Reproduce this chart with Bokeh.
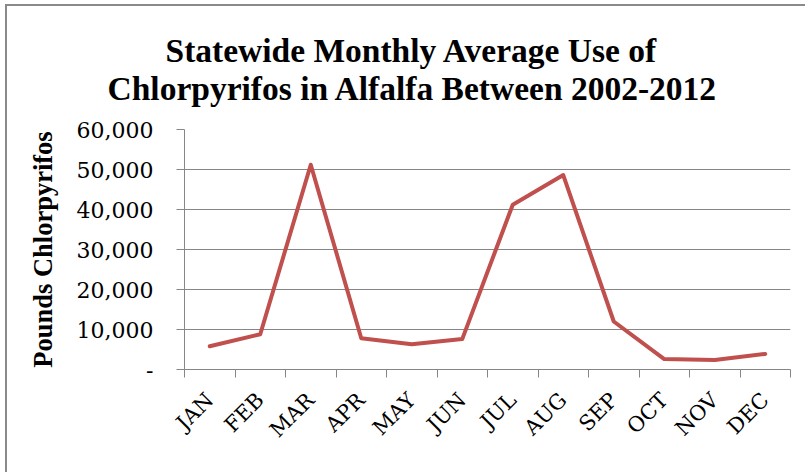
from bokeh.plotting import figure
from bokeh.models import Range1d, FixedTicker, NumeralTickFormatter, Title
from bokeh.embed import file_html
from bokeh.resources import INLINE

months = ["JAN", "FEB", "MAR", "APR", "MAY", "JUN", "JUL", "AUG", "SEP", "OCT", "NOV", "DEC"]
pounds = [5800, 8800, 51200, 7800, 6300, 7600, 41200, 48600, 12000, 2600, 2400, 3900]
y_ticks = [0, 10000, 20000, 30000, 40000, 50000, 60000]
title_lines = ["Statewide Monthly Average Use of", "Chlorpyrifos in Alfalfa Between 2002-2012"]
y_label = "Pounds Chlorpyrifos"

xs = [i + 0.5 for i in range(len(months))]

p = figure(width=800, height=468, output_backend="svg", toolbar_location=None,
           x_range=Range1d(0, len(months)), y_range=Range1d(0, 60000),
           min_border_left=177, min_border_right=17, min_border_top=123, min_border_bottom=105)
p.margin = (4, 0, 0, 5)
p.styles = {"border-top": "2px solid #8a8a8a", "border-left": "2px solid #8a8a8a"}
p.outline_line_color = None
p.background_fill_color = "white"
p.border_fill_color = "white"
p.title.visible = False

t2 = Title(text=title_lines[1], align="left", offset=-77,
           text_font="Liberation Serif", text_font_size="33.5px", text_font_style="bold",
           text_color="black", standoff=46)
t1 = Title(text=title_lines[0], align="left", offset=-19,
           text_font="Liberation Serif", text_font_size="33.5px", text_font_style="bold",
           text_color="black", standoff=-48)
p.add_layout(t2, "above")
p.add_layout(t1, "above")

p.line(xs, pounds, line_color="#C0504D", line_width=4, line_join="round", line_cap="round")

grid_col = "#868686"
p.xgrid.visible = False
p.ygrid.ticker = FixedTicker(ticks=y_ticks)
p.ygrid.grid_line_color = grid_col
p.ygrid.grid_line_width = 1.2

xa = p.xaxis[0]
xa.ticker = FixedTicker(ticks=xs, minor_ticks=list(range(len(months) + 1)))
xa.major_label_overrides = {x: m for x, m in zip(xs, months)}
xa.major_label_orientation = 0.785398
xa.major_tick_out = 0
xa.major_tick_in = 0
xa.minor_tick_out = 8
xa.minor_tick_in = 0
xa.minor_tick_line_color = grid_col
xa.axis_line_color = grid_col
xa.major_label_standoff = 19
xa.major_label_text_font = "DejaVu Serif"
xa.major_label_text_font_size = "21px"
xa.major_label_text_color = "black"

ya = p.yaxis[0]
ya.ticker = FixedTicker(ticks=y_ticks)
ya.formatter = NumeralTickFormatter(format="0,0")
ya.major_label_overrides = {0: "-"}
ya.major_tick_out = 8
ya.major_tick_in = 0
ya.minor_tick_line_color = None
ya.major_tick_line_color = grid_col
ya.axis_line_color = grid_col
ya.major_label_standoff = 23
ya.major_label_text_font = "DejaVu Serif"
ya.major_label_text_font_size = "22px"
ya.major_label_text_color = "black"
ya.axis_label = y_label
ya.axis_label_text_font = "Liberation Serif"
ya.axis_label_text_font_size = "26.5px"
ya.axis_label_text_font_style = "bold"
ya.axis_label_text_color = "black"
ya.axis_label_standoff = 16

open("out.html", "w").write(file_html(p, INLINE))
